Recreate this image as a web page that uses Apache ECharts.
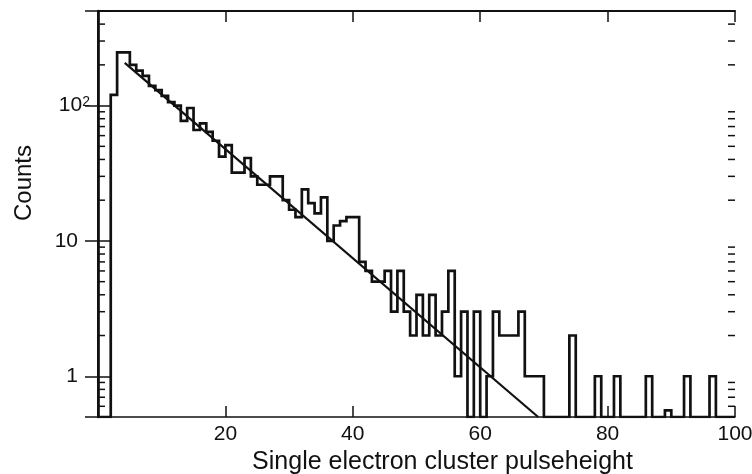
<!DOCTYPE html>
<html>
<head>
<meta charset="utf-8">
<script src="https://cdn.jsdelivr.net/npm/echarts@6/dist/echarts.min.js"></script>
<style>
  html, body { margin: 0; padding: 0; background: #fff; }
  #chart { width: 752px; height: 474px; }
</style>
</head>
<body>
<div id="chart"></div>
<script>
// counts per bin, bin k covers [k, k+1) in pulseheight
const counts = [
  0, 0, 120, 247, 247, 200, 181, 166, 140, 130,
  118, 106, 100, 77, 96, 66, 74, 64, 55, 42,
  51, 32, 32, 41, 30, 26, 26, 30, 30, 20,
  17, 15, 24, 19, 16, 21, 10, 13, 14, 15,
  15, 7, 6, 5, 5, 6, 3, 6, 3, 2,
  4, 2, 4, 2, 3, 6, 1, 3, 0, 3,
  0, 1, 3, 2, 2, 2, 3, 1, 1, 1,
  0, 0, 0, 0, 2, 0, 0, 0, 1, 0,
  0, 1, 0, 0, 0, 0, 1, 0, 0, 0.56,
  0, 0, 1, 0, 0, 0, 1, 0, 0, 0
];
// exponential fit, straight on the log axis
const fitLine = [[4.2, 207], [69.1, 0.5]];
const yMajor = [1, 10, 100];
const yMinor = [0.6, 0.7, 0.8, 0.9, 2, 3, 4, 5, 6, 7, 8, 9,
  20, 30, 40, 50, 60, 70, 80, 90, 200, 300, 400];
const X_MIN = 0, X_MAX = 100, Y_MIN = 0.5, Y_MAX = 500;

const FONT = '"Liberation Sans", Arial, Helvetica, sans-serif';
const INK = '#111';

// empty bins sit on the bottom of the log axis
const histData = counts.map((c, k) => [k, c > 0 ? c : Y_MIN]);
histData.push([counts.length, Y_MIN]);

const chart = echarts.init(document.getElementById('chart'), null, { renderer: 'canvas' });

const yLabel = (v) => {
  const e = Math.round(Math.log10(v));
  if (Math.abs(Math.log10(v) - e) > 1e-6 || !yMajor.includes(Math.pow(10, e))) return '';
  if (e >= 2) return '{b|10}{s|' + e + '}';
  return '{bp|' + Math.pow(10, e) + '}';
};

chart.setOption({
  animation: false,
  backgroundColor: '#fff',
  grid: { left: 98, top: 11, width: 637, height: 406, outerBoundsMode: 'none', containLabel: false },
  xAxis: [{
    type: 'value', min: X_MIN, max: X_MAX, interval: 20,
    name: 'Single electron cluster pulseheight',
    nameLocation: 'middle', nameGap: 32,
    nameTextStyle: { fontFamily: FONT, fontSize: 25, color: INK, padding: [0, 0, 0, 52] },
    axisLine: { lineStyle: { color: INK, width: 1.5 } },
    axisTick: { inside: true, length: 11, lineStyle: { color: INK, width: 1.5 } },
    axisLabel: {
      fontFamily: FONT, fontSize: 21, color: INK, margin: 7,
      formatter: (v) => (v === X_MIN ? '' : String(v))
    },
    splitLine: { show: false }
  }, {
    type: 'value', min: X_MIN, max: X_MAX, interval: 20, position: 'top',
    axisLine: { lineStyle: { color: INK, width: 2 } },
    axisTick: { inside: true, length: 11, lineStyle: { color: INK, width: 1.5 } },
    axisLabel: { show: false },
    splitLine: { show: false }
  }],
  yAxis: [{
    type: 'log', logBase: 10, min: Y_MIN, max: Y_MAX,
    name: 'Counts',
    nameLocation: 'middle', nameGap: 62,
    nameTextStyle: { fontFamily: FONT, fontSize: 24, color: INK, padding: [0, 0, 0, 62] },
    axisLine: { lineStyle: { color: INK, width: 2.7 } },
    axisTick: { inside: true, length: 13, lineStyle: { color: INK, width: 1.5 } },
    axisLabel: {
      margin: 8, formatter: yLabel,
      rich: {
        b: { fontFamily: FONT, fontSize: 21, color: INK },
        bp: { fontFamily: FONT, fontSize: 21, color: INK, padding: [0, 12, 0, 0] },
        s: { fontFamily: FONT, fontSize: 14, color: INK, verticalAlign: 'top', lineHeight: 10 }
      }
    },
    splitLine: { show: false }
  }, {
    type: 'log', logBase: 10, min: Y_MIN, max: Y_MAX, position: 'right',
    axisLine: { lineStyle: { color: INK, width: 2 } },
    axisTick: { inside: true, length: 13, lineStyle: { color: INK, width: 1.5 } },
    axisLabel: { show: false },
    splitLine: { show: false }
  }],
  series: [{
    name: 'histogram', type: 'line', step: 'end',
    data: histData, showSymbol: false, symbol: 'none',
    lineStyle: { color: INK, width: 2.7, join: 'miter' },
    z: 3
  }, {
    name: 'fit', type: 'line',
    data: fitLine, showSymbol: false, symbol: 'none',
    lineStyle: { color: INK, width: 2.2 },
    z: 4
  }, {
    // minor log ticks on left and right frame
    name: 'minorTicks', type: 'custom', silent: true, clip: false,
    data: yMinor.map((v) => [X_MIN, v]),
    renderItem: (params, api) => {
      const v = api.value(1);
      const l = api.coord([X_MIN, v]);
      const r = api.coord([X_MAX, v]);
      const st = { stroke: INK, lineWidth: 1.5 };
      return {
        type: 'group',
        children: [
          { type: 'line', shape: { x1: l[0], y1: l[1], x2: l[0] + 7, y2: l[1] }, style: st },
          { type: 'line', shape: { x1: r[0], y1: r[1], x2: r[0] - 7, y2: r[1] }, style: st }
        ]
      };
    },
    z: 5
  }]
});
</script>
</body>
</html>
